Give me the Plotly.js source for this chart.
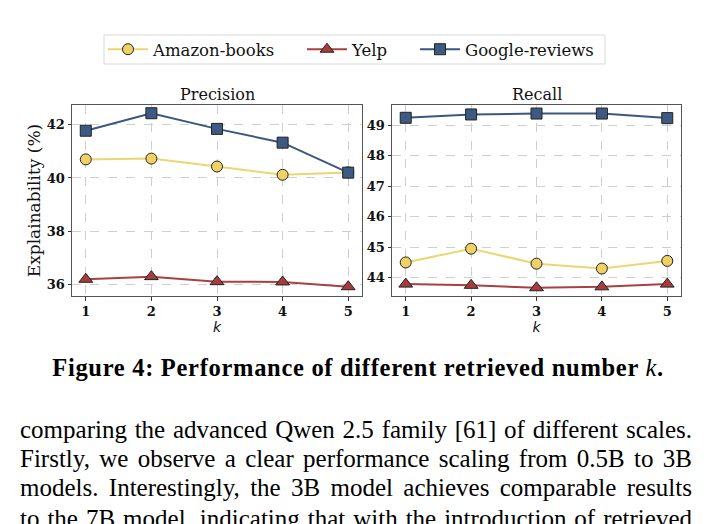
<!DOCTYPE html>
<html>
<head>
<meta charset="utf-8">
<script src="https://cdn.plot.ly/plotly-3.0.1.min.js"></script>
<style>
  html, body { margin: 0; padding: 0; background: #fff; }
  #wrap { position: relative; width: 716px; height: 524px; overflow: hidden; }
  #chart { position: absolute; left: 0; top: 0; width: 716px; height: 524px; }
  .cap { position: absolute; left: 0; width: 716px; top: 356px; text-align: center;
         font-family: "Liberation Serif", "DejaVu Serif", serif; font-weight: bold; font-size: 24.5px;
         letter-spacing: 0.7px; color: #000; line-height: 1; }
  .line { position: absolute; left: 20px; width: 672px; font-family: "Liberation Serif", serif;
          font-size: 25px; color: #000; text-align: justify; text-align-last: justify; white-space: nowrap; line-height: 1; }
</style>
</head>
<body>
<div id="wrap">
  <div id="chart"></div>
  <div class="cap">Figure 4: Performance of different retrieved number <i style="font-weight:normal">k</i>.</div>
  <div class="line" style="top:417px">comparing the advanced Qwen 2.5 family [61] of different scales.</div>
  <div class="line" style="top:446px">Firstly, we observe a clear performance scaling from 0.5B to 3B</div>
  <div class="line" style="top:475px">models. Interestingly, the 3B model achieves comparable results</div>
  <div class="line" style="top:506px">to the 7B model, indicating that with the introduction of retrieved</div>
</div>
<script>
const kValues = [1, 2, 3, 4, 5];
const seriesNames = ["Amazon-books", "Yelp", "Google-reviews"];
const precisionAmazon = [40.70, 40.73, 40.43, 40.12, 40.21];
const precisionYelp = [36.18, 36.28, 36.09, 36.08, 35.90];
const precisionGoogle = [41.78, 42.44, 41.85, 41.33, 40.20];
const recallAmazon = [44.50, 44.95, 44.46, 44.30, 44.55];
const recallYelp = [43.79, 43.75, 43.67, 43.70, 43.79];
const recallGoogle = [49.24, 49.35, 49.38, 49.38, 49.23];
const panelTitles = ["Precision", "Recall"];
const yTitle = "Explainability (%)";
const xTitle = "<i>k</i>";

const styles = [
  {line: "#EBD672", fill: "#F0D264", symbol: "circle", size: 11},
  {line: "#A84141", fill: "#A83C3C", symbol: "triangle-up", size: 12},
  {line: "#3B5680", fill: "#3D5A82", symbol: "square", size: 11}
];
const legendIds = ["legend", "legend2", "legend3"];

function tr(y, idx, xa, ya, show) {
  const s = styles[idx];
  return {
    x: kValues, y: y, type: "scatter", mode: "lines+markers",
    name: seriesNames[idx], showlegend: show, legend: legendIds[idx], xaxis: xa, yaxis: ya,
    line: {color: s.line, width: 2},
    marker: {symbol: s.symbol, size: s.size, color: s.fill, line: {color: "#222", width: 1}}
  };
}

const data = [
  tr(precisionAmazon, 0, "x", "y", true),
  tr(precisionYelp, 1, "x", "y", true),
  tr(precisionGoogle, 2, "x", "y", true),
  tr(recallAmazon, 0, "x2", "y2", false),
  tr(recallYelp, 1, "x2", "y2", false),
  tr(recallGoogle, 2, "x2", "y2", false)
];

const W = 716, H = 524;
const tickFont = {family: "DejaVu Serif", size: 13, color: "#111", weight: "bold"};
function xax(d0, d1, anchor) {
  return {
    domain: [d0 / W, d1 / W], anchor: anchor, range: [0.79, 5.21],
    tickvals: kValues, ticktext: kValues.map(String), tickfont: tickFont,
    showline: true, linecolor: "#555", linewidth: 1, mirror: true,
    ticks: "outside", ticklen: 3.5, tickcolor: "#333",
    showgrid: true, gridcolor: "#cfcfcf", griddash: "dash", gridwidth: 1, zeroline: false,
    title: {text: xTitle, font: {family: "DejaVu Sans", size: 14, color: "#111"}, standoff: 0}
  };
}
function yax(range, tickvals, anchor, title) {
  return {
    domain: [1 - 296 / H, 1 - 105 / H], anchor: anchor, range: range,
    tickvals: tickvals, tickfont: tickFont,
    showline: true, linecolor: "#555", linewidth: 1, mirror: true,
    ticks: "outside", ticklen: 3.5, tickcolor: "#333",
    showgrid: true, gridcolor: "#cfcfcf", griddash: "dash", gridwidth: 1, zeroline: false,
    title: title ? {text: title, font: {family: "DejaVu Serif", size: 17, color: "#111"}, standoff: 1} : {text: ""}
  };
}

function leg(xpx) {
  return {
    orientation: "h", x: xpx / W, xanchor: "left", y: 1 - 32 / H, yanchor: "top",
    borderwidth: 0, bgcolor: "rgba(0,0,0,0)",
    font: {family: "DejaVu Serif", size: 16.5, color: "#111"},
    itemwidth: 40
  };
}

const layout = {
  width: W, height: H,
  margin: {l: 0, r: 0, t: 0, b: 0},
  paper_bgcolor: "#fff", plot_bgcolor: "#fff",
  xaxis: xax(72, 362, "y"),
  yaxis: yax([35.55, 42.75], [36, 38, 40, 42], "x", yTitle),
  xaxis2: xax(392, 681, "y2"),
  yaxis2: yax([43.40, 49.66], [44, 45, 46, 47, 48, 49], "x2", null),
  showlegend: true,
  legend: leg(103),
  legend2: leg(302),
  legend3: leg(415),
  shapes: [
    {type: "rect", xref: "paper", yref: "paper", x0: 104 / W, x1: 605 / W, y0: 1 - 64 / H, y1: 1 - 35 / H,
     line: {color: "#d9d9d9", width: 1}, fillcolor: "rgba(0,0,0,0)", layer: "below"}
  ],
  annotations: [
    {text: panelTitles[0], x: (72 + 362) / 2 / W, y: 1 - 94 / H, xref: "paper", yref: "paper",
     showarrow: false, xanchor: "center", yanchor: "middle", font: {family: "DejaVu Serif", size: 16, color: "#111"}},
    {text: panelTitles[1], x: (392 + 681) / 2 / W, y: 1 - 94 / H, xref: "paper", yref: "paper",
     showarrow: false, xanchor: "center", yanchor: "middle", font: {family: "DejaVu Serif", size: 16, color: "#111"}}
  ]
};

Plotly.newPlot("chart", data, layout, {displayModeBar: false, staticPlot: true});
</script>
</body>
</html>
